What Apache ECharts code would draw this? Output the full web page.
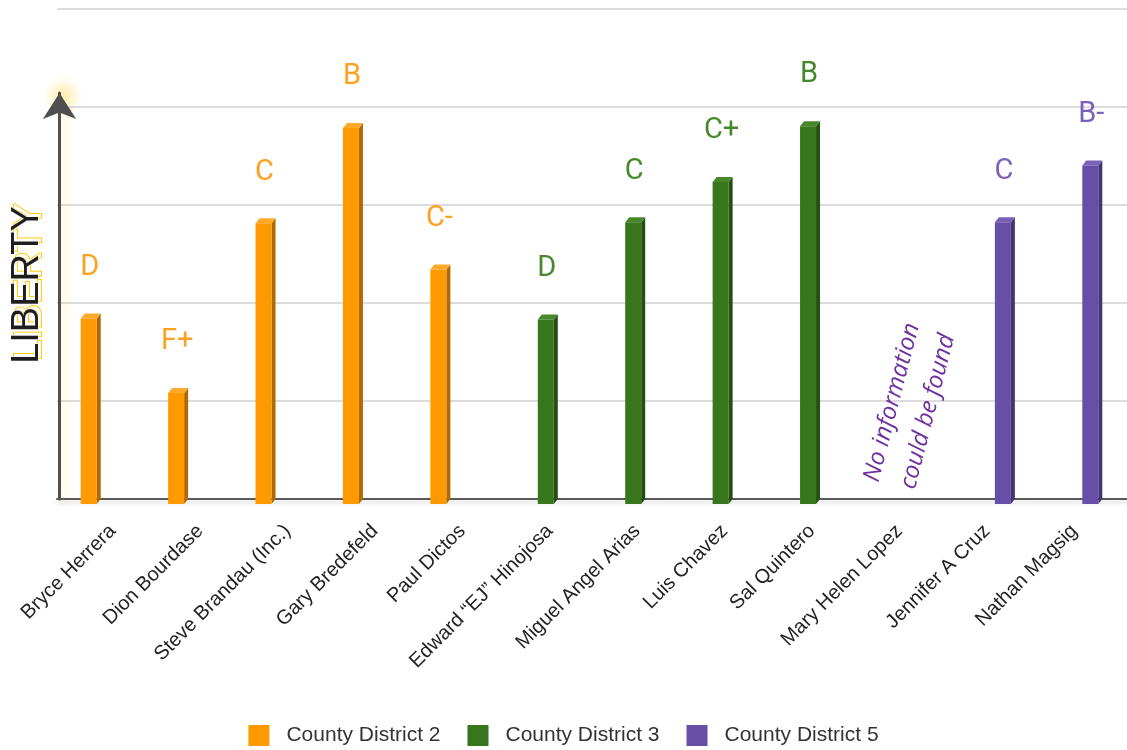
<!DOCTYPE html>
<html><head><meta charset="utf-8">
<script src="https://cdn.jsdelivr.net/npm/echarts@6/dist/echarts.min.js"></script>
<style>html,body{margin:0;padding:0;background:#fff}#c{width:1127px;height:750px}</style>
</head><body><div id="c"></div>
<script>
// ---- data ----
const categories = ['Bryce Herrera','Dion Bourdase','Steve Brandau (Inc.)','Gary Bredefeld','Paul Dictos','Edward \u201cEJ\u201d Hinojosa','Miguel Angel Arias','Luis Chavez','Sal Quintero','Mary Helen Lopez','Jennifer A Cruz','Nathan Magsig'];
const grades = ['D','F+','C','B','C-','D','C','C+','B','','C','B-'];
const district2 = [1.89, 1.13, 2.86, 3.83, 2.39, null, null, null, null, null, null, null];
const district3 = [null, null, null, null, null, 1.88, 2.87, 3.28, 3.85, null, null, null];
const district5 = [null, null, null, null, null, null, null, null, null, null, 2.87, 3.45];
const seriesNames = ['County District 2','County District 3','County District 5'];
const yMin = 0, yMax = 5, yStep = 1;
const noteText = 'No information\ncould be found';
const axisTitle = 'LIBERTY';

// ---- styles ----
const palette = [
  {front:'#ff9900', side:'#b06a00', top:'#ffaa2b', label:'#ffa01f', offset:-20},
  {front:'#38761d', side:'#264f13', top:'#46882a', label:'#46882b', offset:0},
  {front:'#674ea7', side:'#463473', top:'#7861b7', label:'#7a62bb', offset:20}
];
const allValues = [district2, district3, district5];

function toData(arr){ const out=[]; arr.forEach((v,i)=>{ if(v!=null) out.push([i,v]); }); return out; }

function makeRender(sty){
  return function(params, api){
    const idx = api.value(0), v = api.value(1);
    const p = api.coord([idx, v]);
    const b = api.coord([idx, 0]);
    const cx = p[0] + sty.offset;
    const w = 16, dx = -4, dy = 5;
    const xl = cx - w/2, xr = cx + w/2, yt = p[1], yb = b[1];
    return {type:'group', children:[
      {type:'polygon', shape:{points:[[xr+dx,yt+dy],[xr,yt],[xr,yb],[xr+dx,yb+dy]]}, style:{fill:sty.side}},
      {type:'polygon', shape:{points:[[xl+dx,yt+dy],[xl,yt],[xr,yt],[xr+dx,yt+dy]]}, style:{fill:sty.top}},
      {type:'rect', shape:{x:xl+dx, y:yt+dy, width:w, height:yb-yt}, style:{fill:sty.front}},
      {type:'text', x:cx+dx+1, y:yt-46, style:{text:grades[idx], fill:sty.label, font:'29px Roboto', align:'center', verticalAlign:'middle'}}
    ]};
  };
}

const chart = echarts.init(document.getElementById('c'));
const series = allValues.map((arr,k)=>({
  type:'custom', name:seriesNames[k], xAxisIndex:0, yAxisIndex:0,
  itemStyle:{color:palette[k].front},
  renderItem:makeRender(palette[k]), data:toData(arr), z:5
}));

chart.setOption({
  animation:false,
  grid:[
    {left:69, right:9, top:8.3, bottom:251},
    {left:57, right:0, top:8.3, bottom:251},
    {left:59.5, width:1, top:93, bottom:251}
  ],
  xAxis:[
    {type:'category', gridIndex:0, data:categories, boundaryGap:true,
     axisLine:{show:false}, axisTick:{show:false},
     axisLabel:{rotate:45, margin:29, interval:0, fontFamily:'Liberation Sans', fontSize:20, color:'#222'}},
    {type:'value', gridIndex:1, min:0, max:1, axisLabel:{show:false}, axisTick:{show:false}, splitLine:{show:false},
     axisLine:{show:true, lineStyle:{color:'#5a5a5a', width:2, shadowColor:'rgba(0,0,0,0.18)', shadowBlur:4, shadowOffsetY:3}}},
    {type:'value', gridIndex:2, show:false}
  ],
  yAxis:[
    {type:'value', gridIndex:0, min:yMin, max:yMax, interval:yStep, show:false},
    {type:'value', gridIndex:1, min:yMin, max:yMax, interval:yStep, axisLabel:{show:false}, axisTick:{show:false}, axisLine:{show:false},
     splitLine:{show:true, lineStyle:{color:'#dcdcdc', width:2}}},
    {type:'value', gridIndex:2, min:0, max:1, axisLabel:{show:false}, axisTick:{show:false}, splitLine:{show:false},
     axisLine:{show:true, symbol:['none','arrow'], symbolSize:[25,26],
       lineStyle:{color:'#4f4f4f', width:3, shadowColor:'rgba(255,215,90,0.45)', shadowBlur:10, shadowOffsetX:5}}}
  ],
  legend:{
    data:seriesNames, top:725, left:'center', padding:0, icon:'rect', itemWidth:21, itemHeight:21, itemGap:27,
    textStyle:{fontFamily:'Liberation Sans', fontSize:21, color:'#333', padding:[0,0,0,12]}
  },
  graphic:[
    {type:'circle', shape:{cx:63, cy:96, r:20}, z:-1,
     style:{fill:{type:'radial', x:0.5, y:0.5, r:0.5, colorStops:[{offset:0,color:'rgba(255,225,110,0.55)'},{offset:1,color:'rgba(255,225,110,0)'}]}}},
    {type:'text', x:31, y:282, rotation:Math.PI/2, z:10,
     style:{text:axisTitle, font:'38px "Liberation Sans"', fill:'#fff', stroke:'#ffcc00', lineWidth:2, align:'center', verticalAlign:'middle'}},
    {type:'text', x:28, y:285, rotation:Math.PI/2, z:11,
     style:{text:axisTitle, font:'38px "Liberation Sans"', fill:'#1e1e1e', stroke:'#fff', lineWidth:1, align:'center', verticalAlign:'middle'}},
    {type:'text', x:910, y:407, rotation:75.5*Math.PI/180, z:10,
     style:{text:noteText, font:'italic 24px "Open Sans"', fill:'#7030a0', align:'center', verticalAlign:'middle', lineHeight:37}}
  ],
  series:series
});
</script></body></html>
